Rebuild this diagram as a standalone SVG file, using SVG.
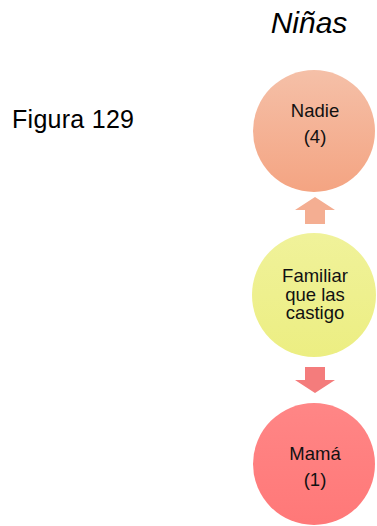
<svg xmlns="http://www.w3.org/2000/svg" width="377" height="526" viewBox="0 0 377 526">
<style>
.lbl{font-family:"Liberation Sans",Arial,sans-serif;font-size:18.5px;fill:#111;text-anchor:middle}
</style>
<defs>
<linearGradient id="gOr" x1="0" y1="0" x2="0" y2="1"><stop offset="0" stop-color="#F5C0A8"/><stop offset="1" stop-color="#F4A482"/></linearGradient>
<linearGradient id="gYe" x1="0" y1="0" x2="0" y2="1"><stop offset="0" stop-color="#F0F29A"/><stop offset="1" stop-color="#ECEE82"/></linearGradient>
<linearGradient id="gPk" x1="0" y1="0" x2="0" y2="1"><stop offset="0" stop-color="#FF8686"/><stop offset="1" stop-color="#FF7878"/></linearGradient>
</defs>
<rect width="377" height="526" fill="#fff"/>
<text x="12" y="128" font-family="Liberation Sans,Arial,sans-serif" font-size="25" fill="#000" textLength="122">Figura 129</text>
<text x="309" y="33" font-family="Liberation Sans,Arial,sans-serif" font-size="30" font-style="italic" fill="#000" text-anchor="middle">Niñas</text>
<g id="connectors">
<polygon points="305,224 325,224 325,210 335,210 315,197 295,210 305,210" fill="#F4AE92"/>
<polygon points="305,367 325,367 325,380 335,380 315,393 295,380 305,380" fill="#F47C7C"/>
</g>
<g id="nadie">
<circle cx="314" cy="131" r="61" fill="url(#gOr)"/>
<text class="lbl" x="315" y="117">Nadie</text>
<text class="lbl" x="315" y="143">(4)</text>
</g>
<g id="familiar">
<circle cx="314" cy="295" r="62" fill="url(#gYe)"/>
<text class="lbl" x="315" y="282">Familiar</text>
<text class="lbl" x="315" y="300.5">que las</text>
<text class="lbl" x="315" y="319">castigo</text>
</g>
<g id="mama">
<circle cx="314" cy="464" r="61" fill="url(#gPk)"/>
<text class="lbl" x="315" y="460">Mamá</text>
<text class="lbl" x="315" y="486">(1)</text>
</g>
</svg>
